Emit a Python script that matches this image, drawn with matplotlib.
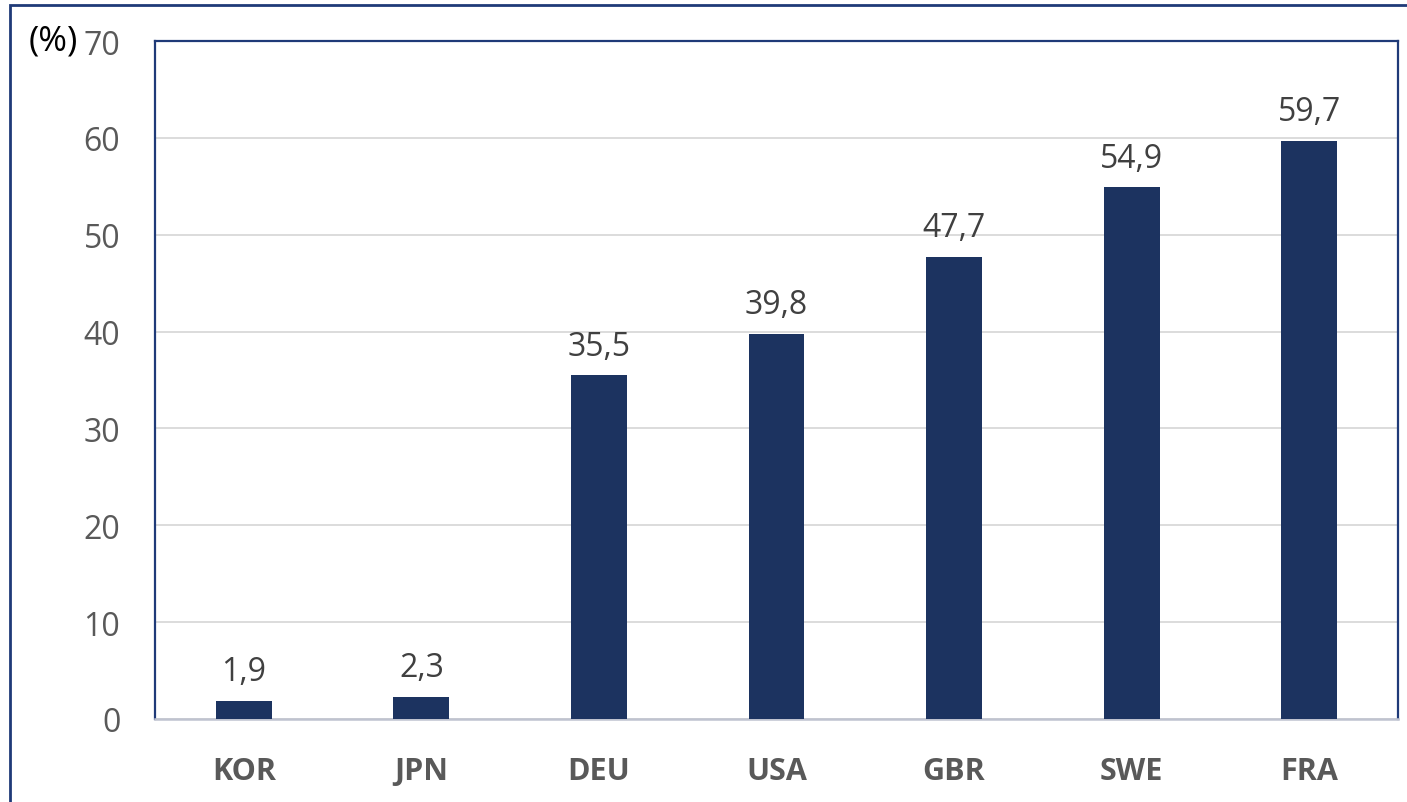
import matplotlib.pyplot as plt
from matplotlib.patches import Rectangle

countries = ["KOR", "JPN", "DEU", "USA", "GBR", "SWE", "FRA"]
values = [1.9, 2.3, 35.5, 39.8, 47.7, 54.9, 59.7]
value_labels = ["1,9", "2,3", "35,5", "39,8", "47,7", "54,9", "59,7"]
yticks = [0, 10, 20, 30, 40, 50, 60, 70]

plt.rcParams["font.family"] = ["Open Sans", "DejaVu Sans"]

fig = plt.figure(figsize=(14.07, 8.03), dpi=100)
ax = fig.add_axes([155 / 1407, 83 / 803, 1243 / 1407, 678 / 803])

x = range(len(countries))
ax.bar(x, values, width=0.315, color="#1c3360", zorder=3)
for xi, v, lab in zip(x, values, value_labels):
    ax.annotate(lab, (xi, v), xytext=(0, 9), textcoords="offset points",
                ha="center", va="bottom", fontsize=23, color="#404040")

ax.set_xlim(-0.5, len(countries) - 0.5)
ax.set_ylim(0, 70)
ax.set_yticks(yticks)
ax.set_yticklabels([str(t) for t in yticks], fontsize=23, color="#595959")
ax.set_xticks(list(x))
ax.set_xticklabels(countries, fontsize=22, fontweight="bold", color="#595959")
ax.tick_params(axis="y", length=0, pad=25)
ax.tick_params(axis="x", length=0, pad=27)
ax.yaxis.grid(True, color="#d9d9d9", linewidth=1.3, zorder=0)
ax.set_axisbelow(True)

for side in ["left", "top", "right"]:
    ax.spines[side].set_color("#1f3a78")
    ax.spines[side].set_linewidth(1.6)
ax.spines["bottom"].set_color("#bfc3d0")
ax.spines["bottom"].set_linewidth(1.8)

fig.text(29 / 1407, 1 - 41 / 803, "(%)", fontsize=25, color="black",
         ha="left", va="center")

# outer frame that runs off the right and bottom edges
fig.patches.append(Rectangle((10 / 1407, -0.1), 1.2, 1.1 - 5.5 / 803,
                             transform=fig.transFigure, fill=False,
                             edgecolor="#1f3a78", linewidth=2))

fig.savefig("out.png", dpi=100)
